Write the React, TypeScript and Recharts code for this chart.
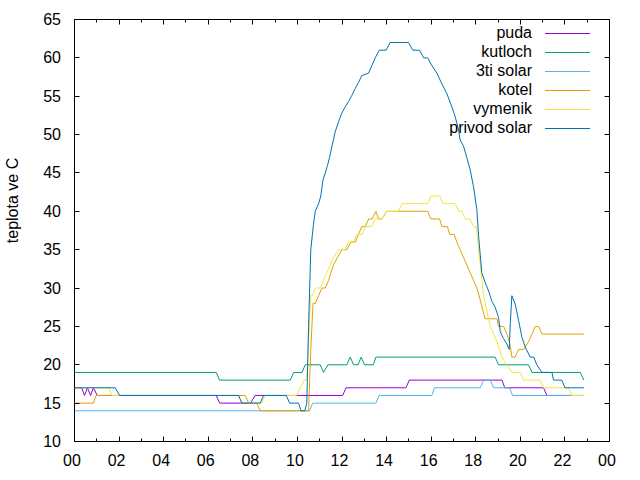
import { LineChart, Line, XAxis, YAxis, Legend, ReferenceArea } from "recharts";

// time of day in hours, temperature in C
const PUDA: [number, number][] = [
  [0, 17], [0.32, 17], [0.45, 16], [0.58, 17], [0.72, 16], [0.85, 17], [1.02, 16], [6.36, 16], [6.51, 15],
  [7.9, 15], [8.1, 16], [12.03, 16], [12.18, 17], [14.87, 17], [15.02, 18], [19.18, 18], [19.3, 17],
  [21.04, 17], [21.19, 16], [22.85, 16],
];
const KUTLOCH: [number, number][] = [
  [0, 19], [6.36, 19], [6.51, 18], [9.68, 18], [9.83, 19], [10.21, 19], [10.35, 20], [11.02, 20], [11.17, 19],
  [11.37, 20], [12.22, 20], [12.37, 21], [12.52, 20], [12.72, 20], [12.86, 21], [13.01, 20], [13.41, 20],
  [13.52, 21], [18.87, 21], [19.02, 20], [20.37, 20], [20.52, 19], [22.69, 19], [22.85, 18],
];
const SOLAR3: [number, number][] = [
  [0, 14], [10.55, 14], [10.68, 15], [13.52, 15], [13.67, 16], [16.03, 16], [16.15, 17], [18.2, 17],
  [18.35, 18], [18.65, 18], [18.8, 17], [19.52, 17], [19.65, 16], [22.85, 16],
];
const KOTEL: [number, number][] = [
  [0, 15], [0.85, 15], [0.97, 16], [7.66, 16], [7.81, 15], [8.18, 15], [8.33, 14], [10.5, 14], [10.6, 22],
  [10.7, 28], [10.8, 28], [10.95, 29], [11.1, 30], [11.25, 30], [11.4, 31], [11.5, 32], [11.62, 33],
  [11.8, 34], [12.0, 35], [12.22, 35], [12.4, 36], [12.6, 36], [12.74, 37], [12.89, 38], [13.04, 38],
  [13.2, 39], [13.35, 39], [13.52, 40], [13.64, 39], [13.79, 39], [14.01, 40], [15.84, 40], [15.99, 39],
  [16.38, 39], [16.48, 38], [16.73, 38], [16.83, 37], [17.03, 37], [17.15, 36], [17.3, 35], [17.45, 34],
  [17.6, 33], [17.75, 32], [17.9, 31], [18.05, 30], [18.15, 29], [18.42, 26], [18.95, 26], [19.02, 25],
  [19.25, 25], [19.4, 24], [19.55, 22.5], [19.62, 21], [19.77, 21], [19.92, 22], [20.15, 22], [20.37, 23],
  [20.52, 24], [20.67, 25], [20.82, 25], [20.97, 24], [22.85, 24],
];
const VYMENIK: [number, number][] = [
  [0, 17], [1.53, 17], [1.68, 16], [7.36, 16], [7.51, 15], [8.4, 15], [8.55, 16], [9.97, 16], [10.13, 17],
  [10.3, 18], [10.42, 18], [10.6, 29], [10.68, 29], [10.8, 30], [11.02, 30], [11.17, 31], [11.32, 32],
  [11.47, 33], [11.62, 34], [11.85, 35], [12.14, 35], [12.29, 36], [12.52, 36], [12.67, 37], [12.89, 37],
  [13.04, 38], [13.34, 38], [13.49, 39], [13.79, 39], [14.01, 40], [14.54, 40], [14.69, 41], [15.84, 41],
  [15.99, 42], [16.38, 42], [16.53, 41], [17.08, 41], [17.23, 40], [17.38, 40], [17.53, 39], [17.75, 39],
  [17.9, 38], [18.02, 38], [18.13, 35], [18.28, 31], [18.35, 29], [18.5, 27], [18.65, 25], [18.8, 24],
  [18.95, 23], [19.17, 21], [19.4, 20], [19.62, 19], [20.0, 19], [20.15, 18], [20.89, 18], [21.04, 17],
  [22.16, 17], [22.31, 16], [22.85, 16],
];
const PRIVOD: [number, number][] = [
  [0, 17], [1.83, 17], [2.02, 16], [7.36, 16], [7.51, 15], [8.33, 15], [8.48, 16], [9.5, 16], [9.65, 15],
  [10.05, 15], [10.16, 14], [10.33, 14], [10.42, 15], [10.5, 25], [10.6, 35], [10.72, 38.3], [10.8, 40],
  [10.95, 41], [11.05, 42], [11.14, 44], [11.25, 45], [11.35, 46], [11.44, 47], [11.55, 48.5], [11.7, 50.4],
  [11.85, 51.7], [11.99, 52.8], [12.14, 53.6], [12.29, 54.3], [12.44, 55.1], [12.59, 56], [12.74, 56.8],
  [12.89, 57.7], [13.19, 58], [13.34, 59], [13.49, 60], [13.67, 61], [13.98, 61], [14.16, 62], [14.98, 62],
  [15.18, 61], [15.48, 61], [15.66, 60], [15.84, 60], [16.03, 59], [16.26, 58], [16.48, 56.6], [16.71, 55.3],
  [16.93, 53.6], [17.08, 52.3], [17.23, 50.6], [17.3, 49.3], [17.45, 48.5], [17.6, 47], [17.75, 45.4],
  [17.9, 43.2], [18.05, 40.2], [18.13, 36.7], [18.27, 32], [18.45, 30.5], [18.58, 29.6], [18.72, 28.3],
  [18.87, 27.5], [19.02, 26.2], [19.1, 24.3], [19.25, 23.4], [19.4, 22.7], [19.5, 22], [19.55, 25.4],
  [19.62, 29], [19.77, 27.9], [19.92, 25.8], [20.07, 23.6], [20.22, 22.3], [20.44, 21], [20.6, 21],
  [20.74, 20], [20.97, 19], [21.42, 19], [21.49, 18], [21.86, 18], [22.01, 17], [22.85, 17],
];

const SERIES_NAMES = ["puda", "kutloch", "3ti solar", "kotel", "vymenik", "privod solar"];
const SERIES_COLORS = ["#9400d3", "#009e73", "#56b4e9", "#e69f00", "#f0e442", "#0072b2"];
const SERIES_DATA = [PUDA, KUTLOCH, SOLAR3, KOTEL, VYMENIK, PRIVOD];

const X_TICKS = [0, 1, 2, 3, 4, 5, 6, 7, 8, 9, 10, 11, 12, 13, 14, 15, 16, 17, 18, 19, 20, 21, 22, 23, 24];
const Y_TICKS = [10, 15, 20, 25, 30, 35, 40, 45, 50, 55, 60, 65];

const FONT = "'Liberation Sans', Arial, sans-serif";
const PLOT_LEFT = 74.5;
const PLOT_RIGHT = 609.5;
const PLOT_TOP = 19.5;
const PLOT_BOTTOM = 441.5;

const crisp = (v: number) => Math.round(v - 0.5) + 0.5;

function XTick(props: any) {
  const { x, payload } = props;
  const h = payload.value;
  const major = h % 2 === 0;
  const len = major ? 5 : 3;
  const cx = crisp(x);
  return (
    <g>
      <line x1={cx} x2={cx} y1={PLOT_BOTTOM} y2={PLOT_BOTTOM - len} stroke="#000" />
      <line x1={cx} x2={cx} y1={PLOT_TOP} y2={PLOT_TOP + len} stroke="#000" />
      {major && (
        <text x={x - 2.5} y={PLOT_BOTTOM + 24} textAnchor="middle" fontFamily={FONT} fontSize={16} fill="#000">
          {String(h % 24).padStart(2, "0")}
        </text>
      )}
    </g>
  );
}

function YTick(props: any) {
  const { y, payload } = props;
  const cy = crisp(y);
  return (
    <g>
      <line x1={PLOT_LEFT} x2={PLOT_LEFT + 5} y1={cy} y2={cy} stroke="#000" />
      <line x1={PLOT_RIGHT} x2={PLOT_RIGHT - 5} y1={cy} y2={cy} stroke="#000" />
      <text x={61} y={y + 5.5} textAnchor="end" fontFamily={FONT} fontSize={16} fill="#000">
        {payload.value}
      </text>
    </g>
  );
}

function YTitle(props: any) {
  const vb = props.viewBox || { y: PLOT_TOP, height: PLOT_BOTTOM - PLOT_TOP };
  const cy = vb.y + vb.height / 2 - 30;
  return (
    <text x={0} y={0} transform={`translate(18, ${cy}) rotate(-90)`} textAnchor="middle" fontFamily={FONT} fontSize={16} fill="#000">
      teplota ve C
    </text>
  );
}

// legend follows the series order, like gnuplot's key
function LegendBox() {
  return (
    <svg width={200} height={125} style={{ display: "block" }}>
      {SERIES_NAMES.map((name, i) => {
        const y = 14 + i * 19;
        return (
          <g key={name}>
            <text x={132} y={y + 5} textAnchor="end" fontFamily={FONT} fontSize={16} fill="#000">
              {name}
            </text>
            <line x1={145} x2={190} y1={y + 0.5} y2={y + 0.5} stroke={SERIES_COLORS[i]} strokeWidth={1} />
          </g>
        );
      })}
    </svg>
  );
}

export default function App() {
  return (
    <div style={{ position: "absolute", left: 0, top: 0, width: 640, height: 480, background: "#fff" }}>
      <LineChart width={640} height={480} margin={{ top: PLOT_TOP, right: 640 - PLOT_RIGHT, bottom: 8.5, left: 14.5 }}>
        <XAxis
          type="number"
          dataKey="h"
          domain={[0, 24]}
          ticks={X_TICKS}
          interval={0}
          height={30}
          axisLine={false}
          tickLine={false}
          tick={<XTick />}
          allowDataOverflow
        />
        <YAxis
          type="number"
          domain={[10, 65]}
          ticks={Y_TICKS}
          interval={0}
          width={60}
          axisLine={false}
          tickLine={false}
          tick={<YTick />}
          label={<YTitle />}
          allowDataOverflow
        />
        <ReferenceArea x1={0} x2={24} y1={10} y2={65} fill="none" fillOpacity={0} stroke="#000" strokeWidth={1} ifOverflow="visible" />
        {SERIES_DATA.map((series, i) => (
          <Line
            key={SERIES_NAMES[i]}
            data={series.map(([h, v]) => ({ h, v }))}
            dataKey="v"
            name={SERIES_NAMES[i]}
            type="linear"
            stroke={SERIES_COLORS[i]}
            strokeWidth={1}
            dot={false}
            activeDot={false}
            isAnimationActive={false}
          />
        ))}
        <Legend
          layout="horizontal"
          align="center"
          verticalAlign="middle"
          content={<LegendBox />}
          wrapperStyle={{ left: 400, top: 19, width: 200, height: 125 }}
        />
      </LineChart>
    </div>
  );
}
